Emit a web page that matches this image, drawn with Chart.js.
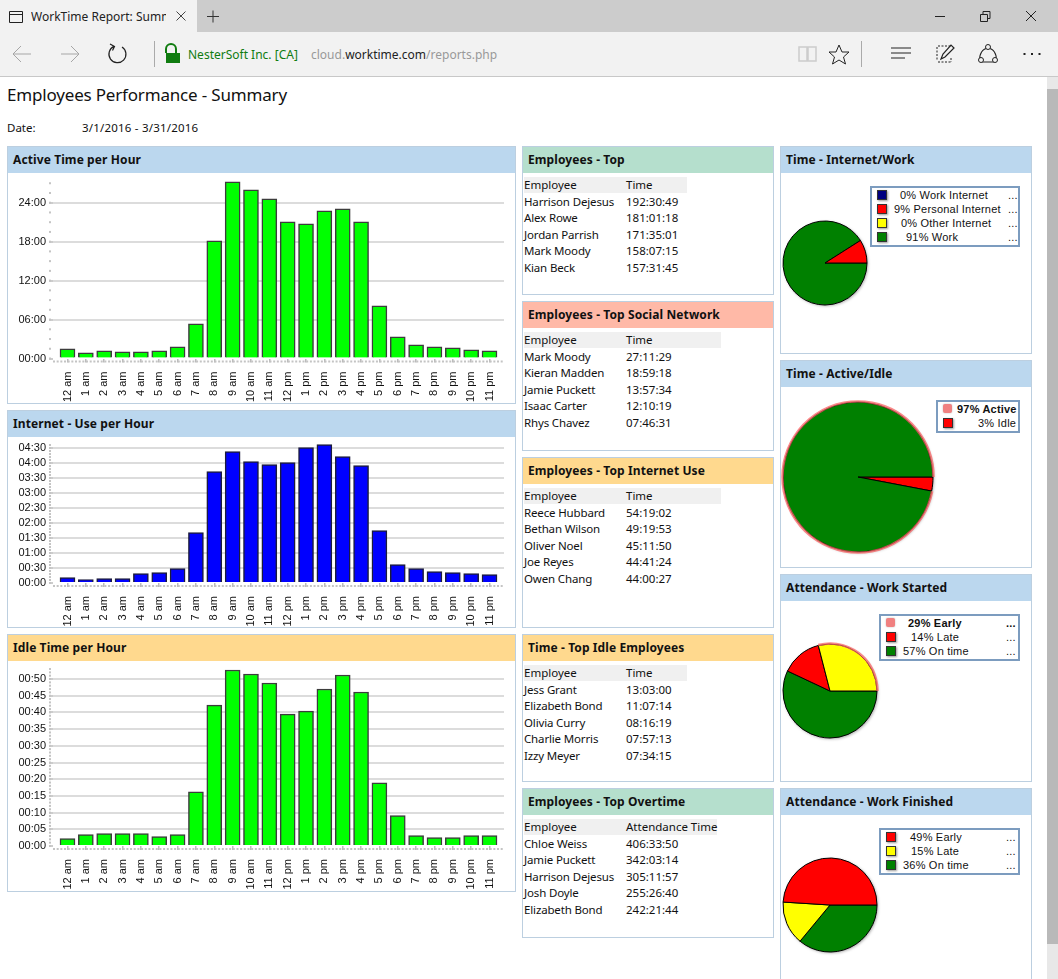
<!DOCTYPE html>
<html>
<head>
<meta charset="utf-8">
<title>WorkTime Report: Summary</title>
<script src="https://cdn.jsdelivr.net/npm/chart.js@4"></script>
<style>
  html, body { margin: 0; padding: 0; width: 1058px; height: 979px; overflow: hidden; background: #fff; }
  body { font-family: "Noto Sans", sans-serif; font-size: 11.5px; color: #111; position: relative; }
  .abs, canvas, svg { position: absolute; }
  .panel { position: absolute; border: 1px solid #bccfe0; box-sizing: border-box; background: #fff; }
  .panel h3 { margin: 0; height: 26px; line-height: 25px; padding-left: 5px; font-size: 12px; font-weight: 700; letter-spacing: .1px; color: #111; }
  .blue { background: #bbd7ee; } .green { background: #b5dfcd; } .salmon { background: #ffb9a7; } .orange { background: #ffd98e; }
  .row { position: absolute; left: 1px; height: 16px; line-height: 16px; white-space: nowrap; }
  .row span { position: absolute; top: 0; }
  .row .who { letter-spacing: -.15px; }
  .hdr { background: #f0f0f0; }
  .legend { position: absolute; border: 2px solid #7c9cbf; box-sizing: border-box; background: #fff; font-family: "Liberation Sans", sans-serif; font-size: 11px; letter-spacing: .2px; }
  .legend div { position: absolute; white-space: nowrap; line-height: 14px; height: 14px; }
  .legend .sw { width: 8px; height: 8px; border: 1px solid #333; box-shadow: 1px 1px 2px #999; }
  .legend .sw.on { border: 0; background: #f08080 !important; border-radius: 2px; width: 9px; height: 9px; box-shadow: 0 0 2px #bbb; }
  #tabs { left: 0; top: 0; width: 1058px; height: 32px; background: #ccc; }
  #tab { left: 0; top: 0; width: 197px; height: 32px; background: #f2f2f2; }
  #bar { left: 0; top: 32px; width: 1058px; height: 44px; background: #f2f2f2; border-bottom: 1px solid #c8c8c8; }
</style>
</head>
<body>
<div class="abs" id="tabs"></div>
<div class="abs" id="tab"></div>
<div class="abs" style="left:31px;top:8px;width:135px;overflow:hidden;white-space:nowrap;font-size:12px;color:#222">WorkTime Report: Summary</div>
<div class="abs" id="bar"></div>
<div class="abs" style="left:188px;top:46px;font-size:12px;color:#107c10;white-space:nowrap">NesterSoft Inc. [CA]</div>
<div class="abs" style="left:311px;top:46px;font-size:12px;color:#999;white-space:nowrap">cloud.<span style="color:#222">worktime.com</span>/reports.php</div>

<svg style="left:0;top:0" width="1058" height="77" fill="none" stroke="#222" stroke-width="1">
  <path d="M9.5 11.5h13v11h-13zM9.5 14.5h13"/>
  <path d="M176.500 11.500l9 9M185.500 11.500l-9 9" stroke="#444"/>
  <path d="M207 16.500h12M213 10.500v12" stroke="#333"/>
  <path d="M13 54h18M21 46l-8 8 8 8M61 54h18M71 46l8 8-8 8" stroke="#a6a6a6"/>
  <path d="M122 47a8.5 8.5 0 1 1-8-.6M110 44l4.5 2.5-2 4" stroke-width="1.2"/>
  <path d="M154.500 41v26M861.500 41v26" stroke="#aaa"/>
  <path d="M166 53v-4a5 5 0 0 1 10 0v4" stroke="#107c10" stroke-width="2"/>
  <rect x="166" y="53" width="14" height="10" fill="#107c10" stroke="none"/>
  <path d="M799 47h8v14h-8zM808 47h8v14h-8z" stroke="#ccc" stroke-width="1.5"/>
  <path d="M839 45l3 7h7l-5.5 5 2 7-6.500-4-6.500 4 2-7-5.500-5h7z"/>
  <path d="M891 48h20M891 53h20M891 58h14" stroke-width="1.2"/>
  <path d="M938 46h13M938 62h13M937 47v14M951 58v4" stroke-dasharray="2 1.500"/>
  <path d="M941 59l2-5 8-9 3 3-9 9z" stroke-width="1.2"/>
  <path d="M988 48a9 10 0 0 1 8 12M980 60a9 10 0 0 1 8-12M982 62h12" stroke-width="1.1"/>
  <circle cx="988" cy="47" r="2.500" fill="#f2f2f2"/><circle cx="981" cy="60" r="2.500" fill="#f2f2f2"/><circle cx="995" cy="60" r="2.500" fill="#f2f2f2"/>
  <path d="M1023.500 54h2M1031 54h2M1038.500 54h2" stroke-width="2"/>
  <path d="M935 16.500h10M980.500 14.500h7v7h-7zM983 14v-2.500h7v7h-2.500M1026 11l10 10M1036 11l-10 10"/>
</svg>

<div class="abs" style="left:7px;top:83px;font-size:17px;letter-spacing:-.18px;color:#111;white-space:nowrap">Employees Performance - Summary</div>
<div class="abs" style="left:7px;top:120px">Date:</div>
<div class="abs" style="left:82px;top:120px;letter-spacing:.2px">3/1/2016 - 3/31/2016</div>

<div id="panels"></div>
<div id="charts"></div>

<div class="abs" style="left:1047px;top:77px;width:11px;height:902px;background:#e8e8e8"></div>
<div class="abs" style="left:1047px;top:89px;width:11px;height:855px;background:#b9b9b9"></div>

<script>
// values, minutes per hour of day
const hourLabels = ['12 am', '1 am', '2 am', '3 am', '4 am', '5 am', '6 am', '7 am', '8 am', '9 am', '10 am', '11 am',
  '12 pm', '1 pm', '2 pm', '3 pm', '4 pm', '5 pm', '6 pm', '7 pm', '8 pm', '9 pm', '10 pm', '11 pm'];
const activeMinutes = [90, 52, 71, 62, 62, 71, 108, 320, 1088, 1632, 1560, 1476, 1264, 1246, 1366, 1384, 1264, 487, 200, 126, 108, 98, 80, 71];
const internetMinutes = [10.7, 6.7, 8.7, 8.7, 18.7, 20.7, 28.7, 100.7, 222.7, 262.7, 242.7, 236.7, 240.7, 270.7, 276.7, 252.7, 234.7, 104.7, 36.7, 28.7, 22.7, 20.7, 18.7, 16.7];
const idleMinutes = [2.2, 3.4, 3.7, 3.7, 3.7, 2.8, 3.4, 16.2, 42.2, 52.7, 51.5, 48.8, 39.5, 40.4, 47, 51.2, 46.1, 18.9, 9.1, 3.1, 2.5, 2.5, 3.1, 3.1];
const activeTicks = ['00:00', '06:00', '12:00', '18:00', '24:00'];
const internetTicks = ['00:00', '00:30', '01:00', '01:30', '02:00', '02:30', '03:00', '03:30', '04:00', '04:30'];
const idleTicks = ['00:00', '00:05', '00:10', '00:15', '00:20', '00:25', '00:30', '00:35', '00:40', '00:45', '00:50'];

const topNames = ['Harrison Dejesus', 'Alex Rowe', 'Jordan Parrish', 'Mark Moody', 'Kian Beck'];
const topTimes = ['192:30:49', '181:01:18', '171:35:01', '158:07:15', '157:31:45'];
const socialNames = ['Mark Moody', 'Kieran Madden', 'Jamie Puckett', 'Isaac Carter', 'Rhys Chavez'];
const socialTimes = ['27:11:29', '18:59:18', '13:57:34', '12:10:19', '07:46:31'];
const internetNames = ['Reece Hubbard', 'Bethan Wilson', 'Oliver Noel', 'Joe Reyes', 'Owen Chang'];
const internetTimes = ['54:19:02', '49:19:53', '45:11:50', '44:41:24', '44:00:27'];
const idleNames = ['Jess Grant', 'Elizabeth Bond', 'Olivia Curry', 'Charlie Morris', 'Izzy Meyer'];
const idleTimes = ['13:03:00', '11:07:14', '08:16:19', '07:57:13', '07:34:15'];
const overtimeNames = ['Chloe Weiss', 'Jamie Puckett', 'Harrison Dejesus', 'Josh Doyle', 'Elizabeth Bond'];
const overtimeTimes = ['406:33:50', '342:03:14', '305:11:57', '255:26:40', '242:21:44'];

const internetWorkLabels = ['Work Internet', 'Personal Internet', 'Other Internet', 'Work'];
const internetWorkValues = [0, 9, 0, 91];
const activeIdleLabels = ['Active', 'Idle'];
const activeIdleValues = [97, 3];
const startedLabels = ['Early', 'Late', 'On time'];
const startedValues = [29, 14, 57];
const finishedLabels = ['Early', 'Late', 'On time'];
const finishedValues = [49, 15, 36];

const panelsEl = document.getElementById('panels');
const chartsEl = document.getElementById('charts');

function addPanel(title, color, left, top, width, height) {
  const p = document.createElement('div');
  p.className = 'panel';
  p.style.cssText = `left:${left}px;top:${top}px;width:${width}px;height:${height}px`;
  p.innerHTML = `<h3 class="${color}">${title}</h3>`;
  panelsEl.appendChild(p);
  return p;
}

function addTable(panel, headCol, names, times, tableWidth) {
  let html = `<div class="row hdr" style="top:30px;width:${tableWidth}px"><span style="left:0">Employee</span><span style="left:102px">${headCol}</span></div>`;
  names.forEach((name, i) => {
    html += `<div class="row" style="top:${46.5 + i * 16.5}px"><span class="who" style="left:0">${name}</span><span style="left:102px">${times[i]}</span></div>`;
  });
  panel.insertAdjacentHTML('beforeend', html);
}

// dotted minor ticks of the original charting tool
const minorDots = {
  id: 'minorDots',
  afterDraw(chart, args, opts) {
    const { ctx, scales: { x, y } } = chart;
    ctx.save();
    ctx.fillStyle = '#c4c4c4';
    for (let v = 0; v <= y.max; v += opts.yStep) {
      ctx.fillRect(x.left - 4, y.getPixelForValue(v) - 1, 2, 2);
    }
    for (let v = x.min; v <= x.max; v += 0.2) {
      ctx.fillRect(x.getPixelForValue(v), y.bottom + 2, 2, 2);
    }
    ctx.restore();
  }
};

// no half-label padding, the plot area has to sit where the padding options say
function noLabelPadding(s) {
  s.paddingTop = 0;
  s.paddingBottom = 0;
  s.paddingLeft = 0;
  s.paddingRight = 0;
}

function barChart(left, top, width, height, values, ticks, step, yMax, color, edge, padTop, axisHeight, minorStep) {
  const canvas = document.createElement('canvas');
  canvas.width = width;
  canvas.height = height;
  canvas.style.cssText = `left:${left}px;top:${top}px;width:${width}px;height:${height}px`;
  chartsEl.appendChild(canvas);
  new Chart(canvas, {
    type: 'bar',
    data: {
      datasets: [{
        data: values.map((v, i) => ({ x: i, y: v })),
        backgroundColor: color,
        borderColor: edge,
        borderWidth: 1.5,
        barThickness: 15
      }]
    },
    options: {
      responsive: false,
      animation: false,
      layout: { padding: { top: padTop, right: 11 } },
      plugins: { legend: { display: false }, tooltip: { enabled: false }, minorDots: { yStep: minorStep } },
      scales: {
        x: {
          type: 'linear',
          offset: false,
          min: -0.79,
          max: 23.79,
          afterFit: s => { s.height = axisHeight; noLabelPadding(s); },
          border: { display: false },
          grid: { offset: false, drawOnChartArea: false, tickLength: 4, tickColor: '#bbb', lineWidth: 1.5 },
          ticks: {
            stepSize: 1, includeBounds: false, autoSkip: false, minRotation: 90, maxRotation: 90, padding: 9,
            color: '#111', font: { family: 'Liberation Sans', size: 11 },
            callback: v => hourLabels[v]
          }
        },
        y: {
          min: 0,
          max: yMax,
          afterFit: s => { s.width = 45; noLabelPadding(s); },
          border: { display: false },
          grid: {
            color: c => (c.tick && c.tick.value === 0 ? 'transparent' : '#dcdcdc'),
            lineWidth: 2, tickLength: 4, tickColor: '#bbb', tickWidth: 1.5
          },
          ticks: {
            stepSize: step, includeBounds: false, autoSkip: false, padding: 3,
            color: '#111', font: { family: 'Liberation Sans', size: 11 },
            callback: v => ticks[v / step]
          }
        }
      }
    },
    plugins: [minorDots]
  });
}

// soft shadow below the pie, pink ring on the slice hovered in the screenshot
const pieDecor = {
  id: 'pieDecor',
  beforeDatasetsDraw(chart) {
    const arc = chart.getDatasetMeta(0).data[0];
    const { ctx } = chart;
    ctx.save();
    ctx.shadowColor = 'rgba(0,0,0,.35)';
    ctx.shadowBlur = 3;
    ctx.shadowOffsetX = 1;
    ctx.shadowOffsetY = 1;
    ctx.fillStyle = '#fff';
    ctx.beginPath();
    ctx.arc(arc.x, arc.y, arc.outerRadius, 0, Math.PI * 2);
    ctx.fill();
    ctx.restore();
  },
  afterDatasetsDraw(chart, args, opts) {
    if (opts.ring == null) return;
    const arc = chart.getDatasetMeta(0).data[opts.ring];
    const { ctx } = chart;
    ctx.save();
    ctx.strokeStyle = 'rgba(250,100,100,.75)';
    ctx.lineWidth = 2.5;
    ctx.beginPath();
    ctx.arc(arc.x, arc.y, arc.outerRadius + 0.5, arc.startAngle, arc.endAngle);
    ctx.stroke();
    ctx.restore();
  }
};

function pieChart(cx, cy, radius, values, colors, ring) {
  const size = radius * 2 + 16;
  const canvas = document.createElement('canvas');
  canvas.width = size;
  canvas.height = size;
  canvas.style.cssText = `left:${cx - size / 2}px;top:${cy - size / 2}px;width:${size}px;height:${size}px`;
  chartsEl.appendChild(canvas);
  // the original runs counter-clockwise from 3 o'clock, so feed it backwards
  new Chart(canvas, {
    type: 'pie',
    data: {
      datasets: [{
        data: values.slice().reverse(),
        backgroundColor: colors.slice().reverse(),
        borderColor: '#000',
        borderWidth: 1
      }]
    },
    options: {
      responsive: false,
      animation: false,
      rotation: 90,
      radius: radius,
      plugins: {
        legend: { display: false }, tooltip: { enabled: false },
        pieDecor: { ring: ring == null ? null : values.length - 1 - ring }
      }
    },
    plugins: [pieDecor]
  });
}

function addLegend(left, top, width, labels, values, colors, textLefts, dotsLeft, hot) {
  const el = document.createElement('div');
  el.className = 'legend';
  const height = labels.length * 14 + 5;
  el.style.cssText = `left:${left}px;top:${top}px;width:${width}px;height:${height}px`;
  let html = '';
  labels.forEach((label, i) => {
    const rowTop = i * 14;
    const bold = i === hot ? 'font-weight:700;' : '';
    html += `<div class="sw${i === hot ? ' on' : ''}" style="left:4.5px;top:${rowTop + 2}px;background:${colors[i]}"></div>`;
    html += `<div style="left:${textLefts[i] - left - 2}px;top:${rowTop}px;${bold}">${values[i]}% ${label}</div>`;
    if (dotsLeft) html += `<div style="left:${dotsLeft - left - 2}px;top:${rowTop}px;${bold}">...</div>`;
  });
  el.innerHTML = html;
  chartsEl.appendChild(el);
}

const NAVY = '#000080', RED = '#ff0000', YEL = '#ffff00', GRN = '#008000';

addPanel('Active Time per Hour', 'blue', 7, 146, 509, 258);
addPanel('Internet - Use per Hour', 'blue', 7, 410, 509, 218);
addPanel('Idle Time per Hour', 'orange', 7, 634, 509, 258);

addTable(addPanel('Employees - Top', 'green', 522, 146, 252, 149), 'Time', topNames, topTimes, 163);
addTable(addPanel('Employees - Top Social Network', 'salmon', 522, 301, 252, 150), 'Time', socialNames, socialTimes, 197);
addTable(addPanel('Employees - Top Internet Use', 'orange', 522, 457, 252, 171), 'Time', internetNames, internetTimes, 197);
addTable(addPanel('Time - Top Idle Employees', 'orange', 522, 634, 252, 148), 'Time', idleNames, idleTimes, 163);
addTable(addPanel('Employees - Top Overtime', 'green', 522, 788, 252, 150), 'Attendance Time', overtimeNames, overtimeTimes, 193);

addPanel('Time - Internet/Work', 'blue', 780, 146, 252, 208);
addPanel('Time - Active/Idle', 'blue', 780, 360, 252, 208);
addPanel('Attendance - Work Started', 'blue', 780, 574, 252, 208);
addPanel('Attendance - Work Finished', 'blue', 780, 788, 252, 260);

barChart(8, 174, 507, 229, activeMinutes, activeTicks, 360, 1650, '#00ff00', '#3c3c3c', 6, 44.5, 90);
barChart(8, 438, 507, 188, internetMinutes, internetTicks, 30, 280, '#0000ff', '#1c1c3c', 5, 43, 6);
barChart(8, 662, 507, 229, idleMinutes, idleTicks, 5, 53, '#00ff00', '#3c3c3c', 7, 45, 1);

pieChart(825, 263, 42, internetWorkValues, [NAVY, RED, YEL, GRN]);
pieChart(858, 477, 75, activeIdleValues, [GRN, RED], 0);
pieChart(830, 691, 47, startedValues, [YEL, RED, GRN], 0);
pieChart(830, 905, 47, finishedValues, [RED, YEL, GRN]);

addLegend(870, 186, 150, internetWorkLabels, internetWorkValues, [NAVY, RED, YEL, GRN], [900, 894, 901, 906], 1008);
addLegend(936, 400, 84, activeIdleLabels, activeIdleValues, [RED, RED], [957, 978], null, 0);
addLegend(879, 614, 141, startedLabels, startedValues, [RED, RED, GRN], [908, 911, 903], 1006, 0);
addLegend(879, 828, 141, finishedLabels, finishedValues, [RED, YEL, GRN], [910, 911, 903], 1006);
</script>
</body>
</html>
